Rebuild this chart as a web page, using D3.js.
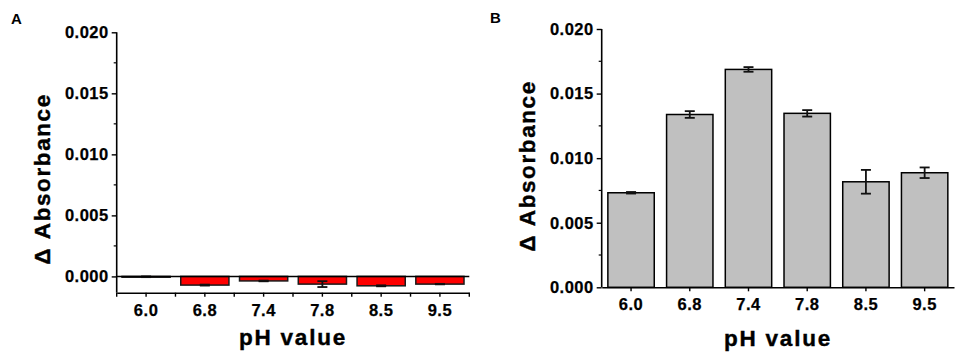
<!DOCTYPE html>
<html><head><meta charset="utf-8">
<script src="https://cdn.jsdelivr.net/npm/d3@7"></script>
<style>
body{margin:0;background:#fff;}
text{font-family:"Liberation Sans",Arial,sans-serif;font-weight:bold;fill:#000;}
</style></head>
<body><svg id="c" width="957" height="355"></svg>
<script>
const categories = ["6.0","6.8","7.4","7.8","8.5","9.5"];
const valuesA = [-0.00003,-0.00071,-0.00037,-0.00063,-0.00077,-0.00063];
const errorsA = [0.00003,0.00004,0.00003,0.00024,0.00004,0.00002];
const valuesB = [0.00732,0.01338,0.01687,0.01347,0.00817,0.00887];
const errorsB = [0.00006,0.00026,0.00018,0.00025,0.00092,0.00041];
const yTicks = [0,0.005,0.010,0.015,0.020];
const yMinorTicks = [0.0025,0.0075,0.0125,0.0175];

const svg = d3.select("#c");

function panel(opt){
  const g = svg.append("g");
  const x = d3.scaleBand().domain(categories).range([opt.x0,opt.x1]).padding(0);
  const y = d3.scaleLinear().domain(opt.ydom).range([opt.yb,opt.yt]);
  // y axis
  const ya = g.append("g").attr("transform",`translate(${opt.x0},0)`)
    .call(d3.axisLeft(y).tickValues(yTicks).tickFormat(d3.format(".3f")).tickSize(5).tickPadding(3));
  ya.select(".domain").remove();
  g.append("line").attr("x1",opt.x0).attr("x2",opt.x0).attr("y1",y(opt.ydom[1])).attr("y2",y(opt.ydom[0]))
    .attr("stroke","#000").attr("stroke-width",1.6);
  ya.selectAll(".tick line").attr("stroke-width",1.4);
  ya.selectAll("text").style("font-size","16.5px").style("letter-spacing","0.5px")
    .style("stroke","#000").style("stroke-width","0.25px");
  g.selectAll(".ymin").data(yMinorTicks).join("line")
    .attr("x1",opt.x0-3).attr("x2",opt.x0).attr("y1",d=>y(d)).attr("y2",d=>y(d))
    .attr("stroke","#000").attr("stroke-width",1.2);
  // bars
  const bw = x.step()*opt.bf;
  g.selectAll(".bar").data(opt.values).join("rect")
    .attr("x",(d,i)=>x(categories[i])+x.step()/2-bw/2)
    .attr("width",bw)
    .attr("y",d=>y(Math.max(0,d)))
    .attr("height",d=>Math.max(0.8,Math.abs(y(d)-y(0))))
    .attr("fill",opt.fill).attr("stroke",opt.stroke).attr("stroke-width",1.5);
  // error bars
  opt.values.forEach((v,i)=>{
    const cx = x(categories[i])+x.step()/2, e = opt.errors[i];
    const eg = g.append("g").attr("stroke","#111").attr("stroke-width",1.8);
    eg.append("line").attr("x1",cx).attr("x2",cx).attr("y1",y(v-e)).attr("y2",y(v+e));
    eg.append("line").attr("x1",cx-5).attr("x2",cx+5).attr("y1",y(v-e)).attr("y2",y(v-e));
    eg.append("line").attr("x1",cx-5).attr("x2",cx+5).attr("y1",y(v+e)).attr("y2",y(v+e));
  });
  // x axis
  const xa = g.append("g").attr("transform",`translate(0,${opt.yb})`)
    .call(d3.axisBottom(x).tickSize(opt.xtick).tickPadding(opt.xpad).tickSizeOuter(0));
  xa.select(".domain").attr("stroke-width",1.6);
  xa.selectAll(".tick line").attr("stroke-width",1.4);
  xa.selectAll("text").style("font-size","16.5px").style("letter-spacing","0.5px")
    .style("stroke","#000").style("stroke-width","0.25px");
  if(opt.boundTicks){
    const b = d3.range(categories.length+1).map(i=>opt.x0+i*x.step());
    g.selectAll(".bt").data(b).join("line")
      .attr("x1",d=>d).attr("x2",d=>d).attr("y1",opt.yb).attr("y2",opt.yb+4)
      .attr("stroke","#000").attr("stroke-width",1.4);
  }
  if(opt.zeroLine){
    g.append("line").attr("x1",opt.x0).attr("x2",opt.x1).attr("y1",y(0)).attr("y2",y(0))
      .attr("stroke","#000").attr("stroke-width",1.5);
  }
  // labels
  g.append("text").attr("transform",`translate(${opt.ylx},${opt.yly}) rotate(-90)`)
    .attr("text-anchor","middle").style("font-size","22.5px").style("letter-spacing","1.6px")
    .style("stroke","#000").style("stroke-width","0.4px")
    .text("Δ Absorbance");
  g.append("text").attr("x",opt.xlx).attr("y",opt.xly).attr("text-anchor","middle")
    .style("font-size","22.5px").style("letter-spacing","1.8px")
    .style("stroke","#000").style("stroke-width","0.4px").text("pH value");
  g.append("text").attr("x",opt.lx).attr("y",opt.ly).style("font-size","15px").text(opt.label);
}

panel({x0:116.7,x1:469.3,yb:292.7,yt:32.3,ydom:[-0.001334,0.020],values:valuesA,errors:errorsA,
  fill:"#ff0000",stroke:"#1a1a1a",bf:0.82,xtick:4,xpad:8,boundTicks:true,zeroLine:true,
  ylx:50,yly:179,xlx:293,xly:345,label:"A",lx:11,ly:24});
panel({x0:601.7,x1:954,yb:287.3,yt:29,ydom:[0,0.020],values:valuesB,errors:errorsB,
  fill:"#c0c0c0",stroke:"#000",bf:0.79,xtick:4,xpad:7,boundTicks:false,zeroLine:false,
  ylx:535,yly:166,xlx:778,xly:346,label:"B",lx:490,ly:23});
</script></body></html>
